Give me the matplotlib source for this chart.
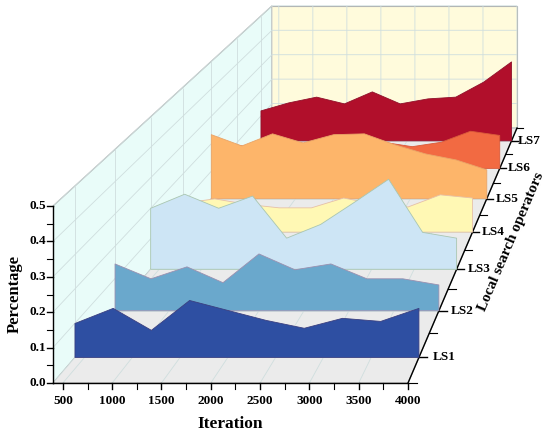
import numpy as np
import matplotlib
matplotlib.use('Agg')
import matplotlib.pyplot as plt
from matplotlib.collections import PolyCollection
from matplotlib.ticker import MultipleLocator, FormatStrFormatter, NullLocator

# data
iterations = [400, 800, 1200, 1600, 2000, 2400, 2800, 3200, 3600, 4000]
operators = ['LS1', 'LS2', 'LS3', 'LS4', 'LS5', 'LS6', 'LS7']
ls1 = [0.099, 0.143, 0.079, 0.166, 0.137, 0.108, 0.085, 0.114, 0.105, 0.143]
ls2 = [0.145, 0.099, 0.136, 0.087, 0.176, 0.127, 0.145, 0.099, 0.099, 0.080]
ls3 = [0.200, 0.246, 0.200, 0.240, 0.102, 0.147, 0.220, 0.295, 0.121, 0.102]
ls4 = [0.100, 0.115, 0.096, 0.084, 0.084, 0.118, 0.096, 0.087, 0.129, 0.118]
ls5 = [0.233, 0.192, 0.236, 0.203, 0.233, 0.236, 0.196, 0.163, 0.141, 0.105]
ls6 = [0.089, 0.070, 0.080, 0.080, 0.080, 0.100, 0.083, 0.100, 0.142, 0.126]
ls7 = [0.120, 0.152, 0.175, 0.148, 0.196, 0.148, 0.168, 0.175, 0.235, 0.316]
series = [ls1, ls2, ls3, ls4, ls5, ls6, ls7]

fill_colors = ['#2e4fa2', '#6aa8cc', '#cde5f5', '#fff8b4', '#fdb56a', '#f26a42', '#b10f2b']
line_colors = ['#3a3f80', '#9a90b0', '#a9c6b0', '#e6c0a8', '#e9a468', '#d85a3a', '#90102a']

plt.rcParams['font.family'] = ['Liberation Serif', 'DejaVu Serif']
plt.rcParams['font.weight'] = 'bold'
plt.rcParams['grid.color'] = '#cfdede'
plt.rcParams['grid.linewidth'] = 0.6

fig = plt.figure(figsize=(5.5, 4.43), dpi=100)
ax = fig.add_axes([0, 0, 1, 1], projection='3d')
# elev/azim only steer which way matplotlib points the ticks; the camera is set below
ax.view_init(elev=-10, azim=90)
ax.set_proj_type('ortho')

# polygons under each curve, one per operator
verts = []
for vals in series:
    verts.append([(iterations[0], 0)] + list(zip(iterations, vals)) + [(iterations[-1], 0)])
poly = PolyCollection(verts, facecolors=fill_colors, edgecolors=line_colors, linewidths=0.6)
poly.set_clip_on(False)  # the back rows reach past the square 3d axes box
ax.add_collection3d(poly, zs=list(range(1, 8)), zdir='y')

ax.set_xlim(400, 4000)
ax.set_ylim(0.5, 7.5)
ax.set_zlim(0, 0.5)
ax.set_xticks([500, 1000, 1500, 2000, 2500, 3000, 3500, 4000])
ax.xaxis.set_minor_locator(MultipleLocator(250))
ax.set_yticks(range(1, 8))
ax.set_yticklabels(operators)
ax.yaxis.set_minor_locator(MultipleLocator(0.5))
ax.set_zticks([0.0, 0.1, 0.2, 0.3, 0.4, 0.5])
ax.zaxis.set_minor_locator(MultipleLocator(0.05))
ax.zaxis.set_major_formatter(FormatStrFormatter('%.1f'))
ax.tick_params(labelsize=9.5)
ax.tick_params(axis='x', pad=9)
ax.tick_params(axis='y', pad=4)
ax.tick_params(axis='z', pad=-1)

ax.xaxis.set_ticks_position('lower')
ax.zaxis.set_ticks_position('lower')
ax.xaxis._axmask = lambda: [False, False, True]
ax.yaxis._axmask = lambda: [True, False, False]
ax.zaxis._axmask = lambda: [True, False, False]

ax.xaxis.set_pane_color('#e9fcf9')
ax.yaxis.set_pane_color('#fffbdc')
ax.zaxis.set_pane_color('#ebebeb')
for a in (ax.xaxis, ax.yaxis, ax.zaxis):
    a.pane.set_edgecolor('#a9a9a9')
    a.pane.set_linewidth(0.8)
    a.line.set_color('black')
    a.line.set_linewidth(1.0)
    a._axinfo['tick']['inward_factor'] = 0.0
    a._axinfo['tick']['outward_factor'] = 0.2
    a._axinfo['tick']['linewidth'] = {True: 1.0, False: 0.8}
    for t in a.get_major_ticks() + a.get_minor_ticks():
        t.label1.set_verticalalignment('center')
        t.label1.set_horizontalalignment('center')
ax.xaxis._axinfo['tick']['outward_factor'] = 0.4
ax.yaxis._axinfo['tick']['outward_factor'] = 0.0
ax.yaxis._axinfo['tick']['inward_factor'] = 0.3
ax.set_xlabel('')
ax.set_ylabel('')
ax.set_zlabel('')


# grid only at the major ticks, minor ticks stay as short marks
def major_grid(axis):
    draw_grid = axis.draw_grid

    def draw(renderer):
        minor = axis.get_minor_locator()
        axis.set_minor_locator(NullLocator())
        draw_grid(renderer)
        axis.set_minor_locator(minor)
    axis.draw_grid = draw


for a in (ax.xaxis, ax.yaxis, ax.zaxis):
    major_grid(a)

# one-point perspective like the original: front face flat to the viewer,
# depth running up and to the right. Corners given in picture pixels.
FRONT_BL, FRONT_BR, FRONT_TL = (53, 383), (408, 383), (53, 206)
BACK_BL, BACK_BR = (272, 128), (517, 128)
base_proj = ax.get_proj


def waterfall_proj():
    base_proj()  # keeps the view attributes matplotlib expects
    pos = ax.get_position()
    vx0, vx1 = ax.viewLim.intervalx
    vy0, vy1 = ax.viewLim.intervaly
    fw, fh = 550.0, 443.0

    def view(p):
        fx, fy = p[0] / fw, 1 - p[1] / fh
        return (vx0 + (fx - pos.x0) / pos.width * (vx1 - vx0),
                vy0 + (fy - pos.y0) / pos.height * (vy1 - vy0))

    fbl, fbr, ftl = view(FRONT_BL), view(FRONT_BR), view(FRONT_TL)
    bbl, bbr = view(BACK_BL), view(BACK_BR)
    wid = fbr[0] - fbl[0]
    hgt = ftl[1] - fbl[1]
    k = wid / (bbr[0] - bbl[0])
    cx = bbl[0] * k - fbl[0]
    cy = bbl[1] * k - fbl[1]
    eps = 0.01
    K = np.array([[wid, cx, 0, fbl[0]],
                  [0, cy, hgt, fbl[1]],
                  [-eps, 1, -eps, 0],
                  [0, k - 1, 0, 1]])
    (x0, x1), (y0, y1), (z0, z1) = ax.get_xlim3d(), ax.get_ylim3d(), ax.get_zlim3d()
    N = np.array([[1 / (x1 - x0), 0, 0, -x0 / (x1 - x0)],
                  [0, 1 / (y1 - y0), 0, -y0 / (y1 - y0)],
                  [0, 0, 1 / (z1 - z0), -z0 / (z1 - z0)],
                  [0, 0, 0, 1]])
    return K @ N


ax.get_proj = waterfall_proj

fig.text(15 / 550, 1 - 294 / 443, 'Percentage', rotation=90, ha='center', va='center',
         fontsize=12, fontweight='bold')
fig.text(230 / 550, 1 - 424 / 443, 'Iteration', ha='center', va='center',
         fontsize=12.5, fontweight='bold')
fig.text(511 / 550, 1 - 242 / 443, 'Local search operators', rotation=67, ha='center',
         va='center', fontsize=11, fontweight='bold', rotation_mode='anchor')

fig.savefig('out.png', dpi=100)
